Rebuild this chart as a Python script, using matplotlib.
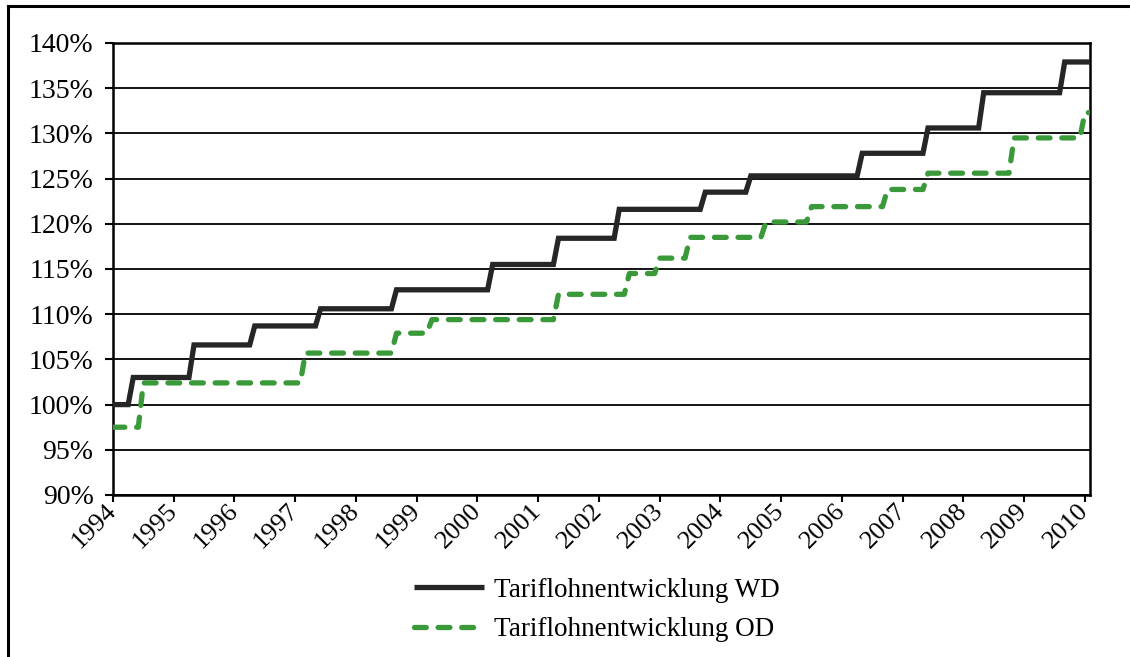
import matplotlib
matplotlib.use("Agg")
import matplotlib.pyplot as plt
from matplotlib.lines import Line2D
from matplotlib.ticker import FuncFormatter
from matplotlib.transforms import ScaledTranslation
import numpy as np
import pandas as pd

# Monthly collective wage index, step changes (month of change -> new level, %)
months = pd.period_range("1994-01", "2010-02", freq="M")

wd_dates = ["1994-01", "1994-05", "1995-05", "1996-05", "1997-06", "1998-09",
            "2000-04", "2001-05", "2002-05", "2003-10", "2004-07", "2006-05",
            "2007-06", "2008-05", "2009-09"]
wd_levels = [100.0, 103.0, 106.6, 108.7, 110.6, 112.7, 115.5, 118.4, 121.6,
             123.5, 125.3, 127.8, 130.6, 134.5, 137.9]

od_dates = ["1994-01", "1994-07", "1997-03", "1998-09", "1999-04", "2001-05",
            "2002-07", "2003-01", "2003-07", "2004-10", "2005-07", "2006-10",
            "2007-06", "2008-11", "2010-01"]
od_levels = [97.5, 102.4, 105.7, 107.9, 109.4, 112.2, 114.5, 116.2, 118.5,
             120.2, 121.9, 123.8, 125.6, 129.5, 132.3]

year_labels = [str(y) for y in range(1994, 2011)]
y_ticks = list(range(90, 145, 5))


def monthly(dates, levels):
    s = pd.Series(np.nan, index=months)
    for d, v in zip(dates, levels):
        s[pd.Period(d, freq="M")] = v
    return s.ffill().to_numpy()


wd = monthly(wd_dates, wd_levels)
od = monthly(od_dates, od_levels)
x = np.array([p.year + (p.month - 1) / 12 for p in months])

plt.rcParams["font.family"] = ["Liberation Serif", "DejaVu Serif"]
plt.rcParams["lines.scale_dashes"] = False

fig = plt.figure(figsize=(11.3, 6.57), dpi=100)
ax = fig.add_axes([113 / 1130, 1 - 495 / 657, (1090 - 113) / 1130, (495 - 43) / 657])

for yv in y_ticks:
    ax.axhline(yv, color="black", lw=1.3, zorder=1)

ax.plot(x, wd, color="#262626", lw=3.8, solid_capstyle="butt",
        solid_joinstyle="miter", label="Tariflohnentwicklung WD", zorder=3)
ax.plot(x, od, color="#3a9a3a", lw=3.8, dashes=(8.5, 8.5), dash_capstyle="round",
        label="Tariflohnentwicklung OD", zorder=3)

ax.set_xlim(x[0], x[-1])
ax.set_ylim(90, 140)
ax.set_yticks(y_ticks)
ax.yaxis.set_major_formatter(FuncFormatter(lambda v, p: f"{v:.0f}%"))
ax.set_xticks(range(1994, 2011))
ax.set_xticklabels(year_labels, rotation=45, ha="right", va="center",
                   rotation_mode="anchor")
shift = ScaledTranslation(7 / 100, 0, fig.dpi_scale_trans)
for lbl in ax.get_xticklabels():
    lbl.set_transform(lbl.get_transform() + shift)

ax.tick_params(axis="y", direction="out", length=6, width=1.5, labelsize=20, pad=8)
ax.tick_params(axis="x", direction="out", length=5, width=1.5, labelsize=19, pad=4)
for s in ax.spines.values():
    s.set_linewidth(1.8)
    s.set_color("black")

leg = fig.legend(loc="center", bbox_to_anchor=(0.528, 0.0715), frameon=False,
                 fontsize=19.5, handlelength=2.6, handletextpad=0.35,
                 labelspacing=0.55, borderpad=0)

# outer frame around the figure
fig.add_artist(Line2D([7.5 / 1130, 1.0], [1 - 6 / 657, 1 - 6 / 657],
                      transform=fig.transFigure, color="black", lw=2.2))
fig.add_artist(Line2D([7.5 / 1130, 7.5 / 1130], [0.0, 1 - 6 / 657],
                      transform=fig.transFigure, color="black", lw=2.2))

fig.savefig("out.png", dpi=100)
